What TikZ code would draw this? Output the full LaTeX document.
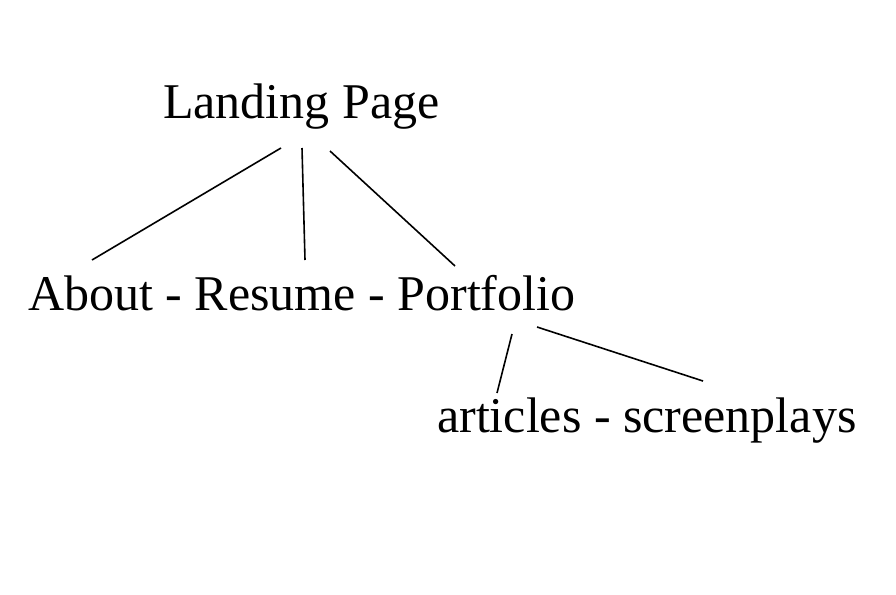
\documentclass[tikz,border=0pt]{standalone}
\usepackage{fontspec}
\setmainfont{Liberation Serif}
\begin{document}
\begin{tikzpicture}[x=1pt,y=-1pt,
  label/.style={anchor=base west,inner sep=0pt,font=\fontsize{50}{60}\selectfont},
  link/.style={line width=1.6pt}]
\useasboundingbox (0,0) rectangle (896,594);
\node[label] (landing) at (163,118) {Landing Page};
\node[label] (sections) at (28,310) {About - Resume - Portfolio};
\node[label] (works) at (437,432) {articles - screenplays};
% end points of the connectors
\coordinate (lpA) at (281,148);
\coordinate (lpB) at (302,148);
\coordinate (lpC) at (330,151);
\coordinate (about) at (92,260);
\coordinate (resume) at (305,260);
\coordinate (portfolio) at (455,266);
\coordinate (pfA) at (512,334);
\coordinate (pfB) at (537,327);
\coordinate (articles) at (497,393);
\coordinate (screenplays) at (703,381);
\draw[link] (lpA) -- (about);
\draw[link] (lpB) -- (resume);
\draw[link] (lpC) -- (portfolio);
\draw[link] (pfA) -- (articles);
\draw[link] (pfB) -- (screenplays);
\end{tikzpicture}
\end{document}
